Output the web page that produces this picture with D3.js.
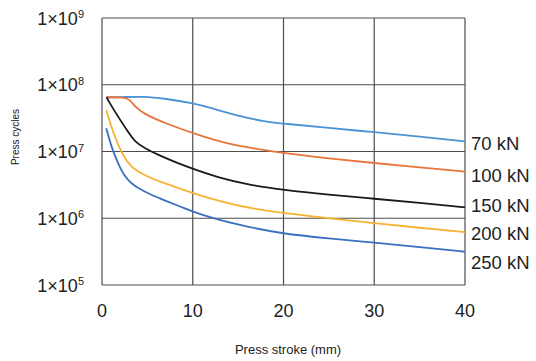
<!DOCTYPE html>
<html><head><meta charset="utf-8">
<script src="https://cdn.jsdelivr.net/npm/d3@7"></script>
<style>
body{margin:0;background:#fff;}
svg{display:block;font-family:"Liberation Sans",Arial,Helvetica,sans-serif;}
</style></head>
<body><svg id="c" width="536" height="361"></svg>
<script>
const xTicks = [0, 10, 20, 30, 40];
const yExponents = [5, 6, 7, 8, 9];
const seriesNames = ["70 kN", "100 kN", "150 kN", "200 kN", "250 kN"];
const seriesColors = ["#4a93d4", "#e8743b", "#1a1a1a", "#f7b232", "#3b6fc0"];
const s70 = [[0.5,6.5e7],[2,6.5e7],[4.5,6.7e7],[7,6.2e7],[10,5.3e7],[12,4.5e7],[15,3.4e7],[18,2.8e7],[20,2.62e7],[25,2.25e7],[30,1.95e7],[35,1.68e7],[40,1.42e7]];
const s100 = [[0.5,6.5e7],[2.5,6.5e7],[3.05,6.0e7],[3.7,4.6e7],[4.5,3.75e7],[6.9,2.65e7],[10.6,1.77e7],[13,1.4e7],[16,1.15e7],[20,9.4e6],[25,7.9e6],[30,6.7e6],[35,5.8e6],[40,5.0e6]];
const s150 = [[0.5,6.5e7],[0.66,5.9e7],[1.76,3.33e7],[2.86,1.98e7],[3.6,1.4e7],[4.7,1.12e7],[6.17,8.9e6],[8.37,6.65e6],[10.58,5.16e6],[13,4.0e6],[16,3.2e6],[20,2.65e6],[25,2.25e6],[30,1.96e6],[35,1.7e6],[40,1.46e6]];
const s200 = [[0.47,4.2e7],[1.02,2.35e7],[1.76,1.25e7],[2.5,7.9e6],[3.23,5.9e6],[3.97,4.98e6],[5.43,3.97e6],[6.91,3.34e6],[8.74,2.72e6],[10.58,2.23e6],[15,1.5e6],[20,1.19e6],[25,1.0e6],[30,8.4e5],[35,7.2e5],[40,6.2e5]];
const s250 = [[0.47,2.23e7],[1.02,1.18e7],[1.76,6.65e6],[2.5,4.2e6],[3.23,3.34e6],[3.97,2.81e6],[5.43,2.23e6],[6.91,1.85e6],[8.74,1.48e6],[10.58,1.16e6],[15,7.9e5],[20,5.8e5],[25,5.0e5],[30,4.3e5],[35,3.7e5],[40,3.15e5]];
const seriesData = [s70, s100, s150, s200, s250];
const labelYs = [143, 175, 205, 233, 262];

const svg = d3.select("#c");
const L = 102, R = 465, T = 18, B = 285;
const x = d3.scaleLinear().domain([0, 40]).range([L, R]);
const y = d3.scaleLog().domain([1e5, 1e9]).range([B, T]);
const grid = "#4d4d4d";

// gridlines
svg.append("g").selectAll("line").data(xTicks).join("line")
  .attr("x1", d => x(d)).attr("x2", d => x(d)).attr("y1", T).attr("y2", B)
  .attr("stroke", grid).attr("stroke-width", 1.2);
svg.append("g").selectAll("line").data(yExponents).join("line")
  .attr("x1", L).attr("x2", R).attr("y1", d => y(Math.pow(10, d))).attr("y2", d => y(Math.pow(10, d)))
  .attr("stroke", grid).attr("stroke-width", 1.2);

// x tick labels
svg.append("g").selectAll("text").data(xTicks).join("text")
  .attr("x", d => x(d)).attr("y", 317).attr("text-anchor", "middle")
  .attr("font-size", 18).attr("fill", "#222").text(d => d);

// y tick labels
const yl = svg.append("g").selectAll("text").data(yExponents).join("text")
  .attr("x", 84).attr("y", d => y(Math.pow(10, d)) + 6.5).attr("text-anchor", "end")
  .attr("font-size", 18).attr("fill", "#222");
yl.append("tspan").text("1×10");
yl.append("tspan").attr("font-size", 11).attr("dy", -6.5).text(d => d);

// lines
const line = d3.line().x(d => x(d[0])).y(d => y(d[1])).curve(d3.curveBasis);
svg.append("g").selectAll("path").data(seriesData).join("path")
  .attr("d", line).attr("fill", "none")
  .attr("stroke", (d, i) => seriesColors[i]).attr("stroke-width", 1.8);

// series labels
svg.append("g").selectAll("text").data(seriesNames).join("text")
  .attr("x", 471).attr("y", (d, i) => labelYs[i] + 6.5)
  .attr("font-size", 18.5).attr("fill", "#222").text(d => d);

// axis titles
svg.append("text").attr("x", 288).attr("y", 354).attr("text-anchor", "middle")
  .attr("font-size", 13).attr("fill", "#222").text("Press stroke (mm)");
svg.append("text").attr("transform", "translate(19,137) rotate(-90)").attr("text-anchor", "middle")
  .attr("font-size", 10).attr("fill", "#222").text("Press cycles");
</script></body></html>
